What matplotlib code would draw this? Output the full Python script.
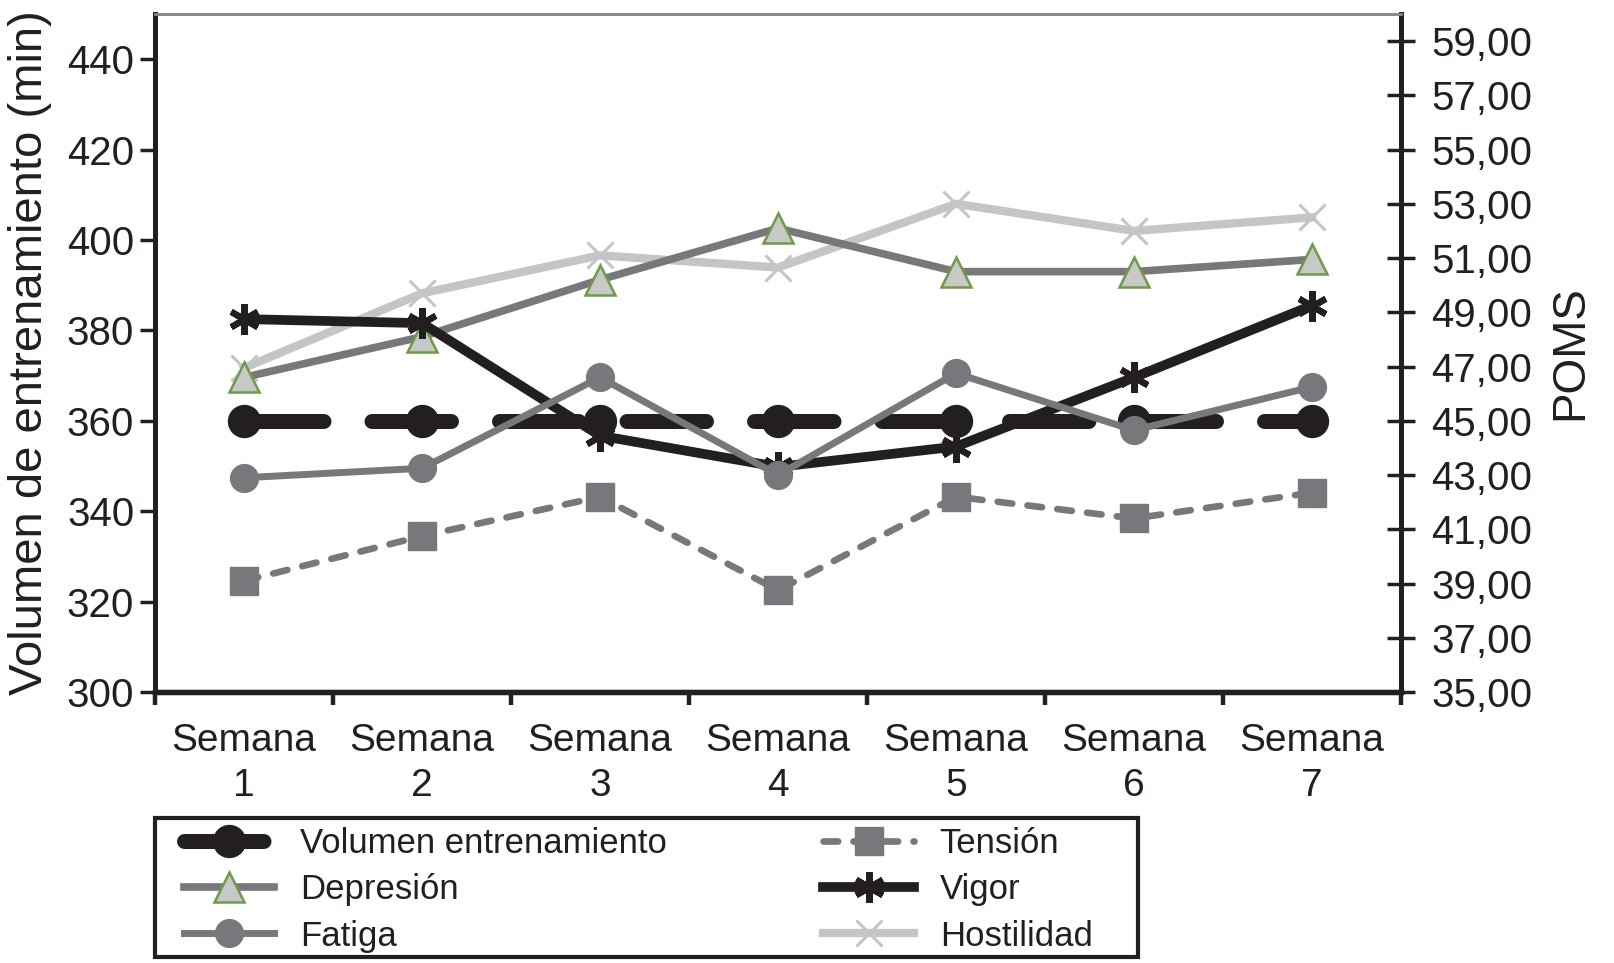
import numpy as np
import matplotlib
matplotlib.use("Agg")
import matplotlib.pyplot as plt
from matplotlib.ticker import FuncFormatter
from matplotlib.patches import Rectangle

plt.rcParams['font.family'] = ['Liberation Sans', 'DejaVu Sans']

# datos
semanas = ["Semana\n1", "Semana\n2", "Semana\n3", "Semana\n4",
           "Semana\n5", "Semana\n6", "Semana\n7"]
volumen = [360, 360, 360, 360, 360, 360, 360]          # eje izq (min)
tension = [39.1, 40.75, 42.2, 38.75, 42.2, 41.4, 42.35]  # eje der (POMS)
depresion = [46.6, 48.1, 50.2, 52.1, 50.5, 50.5, 50.95]
vigor = [48.75, 48.6, 44.45, 43.3, 44.05, 46.6, 49.25]
fatiga = [42.9, 43.25, 46.6, 43.0, 46.75, 44.65, 46.25]
hostilidad = [46.95, 49.7, 51.1, 50.65, 53.0, 52.0, 52.5]

negro = '#231f20'
gris = '#77787b'
gris_claro = '#c4c5c7'

fig = plt.figure(figsize=(16.15, 9.63), dpi=100)
ax = fig.add_axes([0.096, 0.2814, 0.7715, 0.7041])
ax2 = ax.twinx()

x = np.arange(len(semanas)) + 0.5

l_vol, = ax.plot(x, volumen, color=negro, lw=10.8, marker='o', ms=23,
                 dash_capstyle='round', solid_capstyle='round',
                 label='Volumen entrenamiento')
l_vol.set_dashes((5.3, 3.2))

l_ten, = ax2.plot(x, tension, color=gris, lw=4.8, marker='s', ms=20,
                  dash_capstyle='round', label='Tensión')
l_ten.set_dashes((2.2, 2.3))
l_hos, = ax2.plot(x, hostilidad, color=gris_claro, lw=6, marker='x', ms=19,
                  mew=2.2, label='Hostilidad')
l_dep, = ax2.plot(x, depresion, color=gris, lw=5.5, marker='^', ms=21,
                  mfc='#c8c8c8', mec='#6e9a4a', mew=1.8, label='Depresión')
l_vig, = ax2.plot(x, vigor, color=negro, lw=7, marker=(6, 2, 0), ms=22,
                  mew=4.5, label='Vigor')
l_fat, = ax2.plot(x, fatiga, color=gris, lw=5, marker='o', ms=20,
                  label='Fatiga')

# ejes
ax.set_xlim(0, 7)
ax.set_ylim(300, 450)
ax2.set_ylim(35, 60)
ax.set_yticks(np.arange(300, 441, 20))
ax2.set_yticks(np.arange(35, 60, 2))
ax2.yaxis.set_major_formatter(FuncFormatter(lambda v, p: f"{v:.2f}".replace('.', ',')))

ax.set_xticks(x)
ax.set_xticklabels(semanas)
for t in ax.get_xticklabels():
    t.set_linespacing(1.35)
ax.set_xticks(np.arange(8), minor=True)
ax.tick_params(axis='x', which='major', length=0, pad=22, labelsize=28,
               labelcolor=negro)
ax.tick_params(axis='x', which='minor', length=9.5, width=3.2, color=negro,
               direction='out')
ax.tick_params(axis='y', length=11, width=2.5, color=negro, pad=4,
               labelsize=29, labelcolor=negro)
ax2.tick_params(axis='y', direction='inout', length=19.5, width=2.5,
                color=negro, pad=12, labelsize=29, labelcolor=negro)

for a in (ax, ax2):
    a.spines['left'].set_linewidth(3.5)
    a.spines['right'].set_linewidth(3.5)
    a.spines['bottom'].set_linewidth(3.8)
    a.spines['left'].set_color(negro)
    a.spines['right'].set_color(negro)
    a.spines['bottom'].set_color(negro)
    a.spines['top'].set_color('#8a8a8a')
    a.spines['top'].set_linewidth(2)

ax.set_ylabel('Volumen de entrenamiento (min)', fontsize=34, color=negro)
ax.yaxis.set_label_coords(-0.083, 0.5)
ax2.set_ylabel('POMS', fontsize=33, color=negro, rotation=90)
ax2.yaxis.set_label_coords(1.118, 0.5)

# leyenda
handles = [l_vol, l_dep, l_fat, l_ten, l_vig, l_hos]
labels = [h.get_label() for h in handles]
fig.legend(handles, labels, loc='upper left', bbox_to_anchor=(0.1139, 0.141),
           ncol=2, frameon=False, fontsize=25, handlelength=2.6,
           handletextpad=0.75, columnspacing=4.5, labelspacing=0.38,
           borderpad=0, borderaxespad=0, numpoints=1,
           labelcolor=negro)
fig.add_artist(Rectangle((0.096, 0.0062), 0.6087, 0.1443, fill=False,
                         lw=3, edgecolor=negro, transform=fig.transFigure))

fig.savefig('out.png', dpi=100)
